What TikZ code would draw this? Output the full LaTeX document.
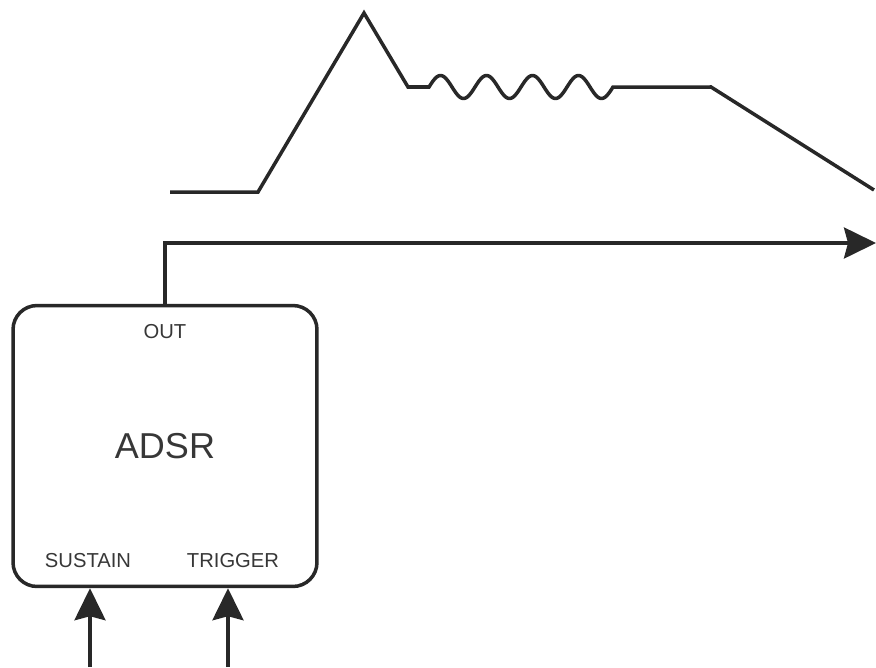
\documentclass[tikz,border=0pt]{standalone}
\usepackage{fontspec}
\setmainfont{Liberation Sans}
\usetikzlibrary{arrows.meta}
\definecolor{adsrline}{RGB}{40,40,40}
\definecolor{adsrtext}{RGB}{55,55,55}

\begin{document}
\begin{tikzpicture}[
  x=0.02cm, y=-0.02cm,
  wire/.style={line width=2pt, adsrline},
  sig/.style={wire, -{Stealth[length=0.64cm, width=0.62cm, inset=0.08cm]}},
  port/.style={text=adsrtext, font=\fontsize{11.5}{13}\selectfont, inner sep=0pt},
  module/.style={draw=adsrline, line width=2pt, rounded corners=0.48cm, minimum width=6.08cm, minimum height=5.62cm, inner sep=0pt}
]
\useasboundingbox (0,0) rectangle (876,667);

% envelope shape above the module
\draw[wire, line join=miter] (170,192) -- (258,192) -- (364,13) -- (408,87) -- (429,87)
  -- plot[domain=0:4, samples=121, smooth] ({429+46*\x},{87-11.5*sin(360*\x)})
  -- (711,87) -- (874,190);

% module and its labels
\node[module] (adsr) at (165,446) {};
\node[port] (out) at (165,332) {OUT};
\node[text=adsrtext, font=\fontsize{20.5}{24}\selectfont, inner sep=0pt] (name) at (165,446) {ADSR};
\node[port] (sus) at (88,561) {SUSTAIN};
\node[port] (trig) at (233,561) {TRIGGER};

% connectors
\coordinate (outend) at (876,243);
\coordinate (susin) at (90,667);
\coordinate (trigin) at (228,667);
\draw[sig] (adsr.north -| out) |- (outend);
\draw[sig] (susin) -- (susin |- adsr.south);
\draw[sig] (trigin) -- (trigin |- adsr.south);
\end{tikzpicture}
\end{document}
